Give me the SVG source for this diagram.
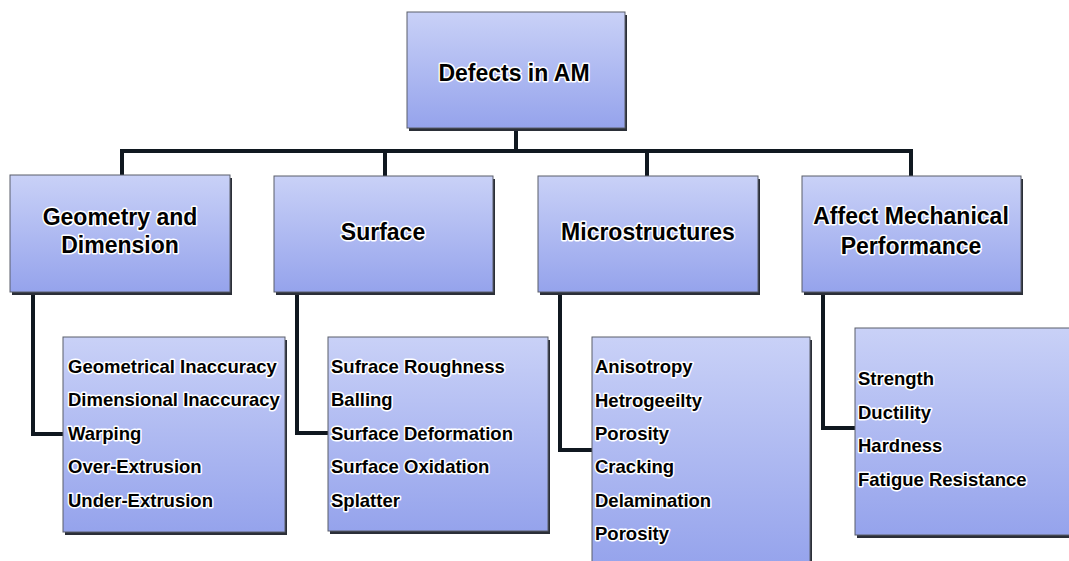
<svg xmlns="http://www.w3.org/2000/svg" width="1069" height="561" viewBox="0 0 1069 561">
<defs>
<linearGradient id="g" x1="0" y1="0" x2="0" y2="1">
<stop offset="0" stop-color="#c9d1f7"/>
<stop offset="1" stop-color="#95a3ec"/>
</linearGradient>
<style>
.sh{fill:#2b2f38}
.bx{fill:url(#g);stroke:#5a5e6a;stroke-width:1}
.t{font-family:"Liberation Sans",Arial,sans-serif;font-weight:bold;fill:#000;stroke:#fff;stroke-width:3;stroke-linejoin:round;paint-order:stroke}
.h{font-size:23px;text-anchor:middle}
.l{font-size:18.5px}
.c{fill:none;stroke:#101820;stroke-width:4;stroke-linejoin:miter}
</style>
</defs>
<rect width="1069" height="561" fill="#fff"/>
<g id="connectors">
<path class="c" d="M516 128V151M122 176V151H911V176M385 151V176M647 151V176"/>
<path class="c" d="M33 292V434H63"/>
<path class="c" d="M297 292V433H328"/>
<path class="c" d="M560 292V450H592"/>
<path class="c" d="M823 292V428H855"/>
</g>
<g id="root">
<rect class="sh" x="409" y="15" width="218" height="116"/>
<rect class="bx" x="407" y="12" width="218" height="116"/>
<text class="t h" x="514" y="81">Defects in AM</text>
</g>
<g id="geometry">
<rect class="sh" x="12" y="178" width="220" height="117"/>
<rect class="bx" x="10" y="175" width="220" height="117"/>
<text class="t h" x="120" y="225">Geometry and</text>
<text class="t h" x="120" y="253">Dimension</text>
</g>
<g id="surface">
<rect class="sh" x="276" y="179" width="219" height="116"/>
<rect class="bx" x="274" y="176" width="219" height="116"/>
<text class="t h" x="383" y="240">Surface</text>
</g>
<g id="micro">
<rect class="sh" x="540" y="179" width="220" height="116"/>
<rect class="bx" x="538" y="176" width="220" height="116"/>
<text class="t h" x="648" y="240">Microstructures</text>
</g>
<g id="mech">
<rect class="sh" x="804" y="179" width="219" height="116"/>
<rect class="bx" x="802" y="176" width="219" height="116"/>
<text class="t h" x="911" y="224">Affect Mechanical</text>
<text class="t h" x="911" y="254">Performance</text>
</g>
<g id="geometry-list">
<rect class="sh" x="65" y="340" width="222" height="195"/>
<rect class="bx" x="63" y="337" width="222" height="195"/>
<text class="t l" x="68" y="373">Geometrical Inaccuracy</text>
<text class="t l" x="68" y="406">Dimensional Inaccuracy</text>
<text class="t l" x="68" y="440">Warping</text>
<text class="t l" x="68" y="473">Over-Extrusion</text>
<text class="t l" x="68" y="507">Under-Extrusion</text>
</g>
<g id="surface-list">
<rect class="sh" x="330" y="340" width="220" height="194"/>
<rect class="bx" x="328" y="337" width="220" height="194"/>
<text class="t l" x="331" y="373">Sufrace Roughness</text>
<text class="t l" x="331" y="406">Balling</text>
<text class="t l" x="331" y="440">Surface Deformation</text>
<text class="t l" x="331" y="473">Surface Oxidation</text>
<text class="t l" x="331" y="507">Splatter</text>
</g>
<g id="micro-list">
<rect class="sh" x="594" y="340" width="218" height="230"/>
<rect class="bx" x="592" y="337" width="218" height="230"/>
<text class="t l" x="595" y="373">Anisotropy</text>
<text class="t l" x="595" y="407">Hetrogeeilty</text>
<text class="t l" x="595" y="440">Porosity</text>
<text class="t l" x="595" y="473">Cracking</text>
<text class="t l" x="595" y="507">Delamination</text>
<text class="t l" x="595" y="540">Porosity</text>
</g>
<g id="mech-list">
<rect class="sh" x="857" y="331" width="220" height="207"/>
<rect class="bx" x="855" y="328" width="220" height="207"/>
<text class="t l" x="858" y="385">Strength</text>
<text class="t l" x="858" y="419">Ductility</text>
<text class="t l" x="858" y="452">Hardness</text>
<text class="t l" x="858" y="486">Fatigue Resistance</text>
</g>
</svg>
